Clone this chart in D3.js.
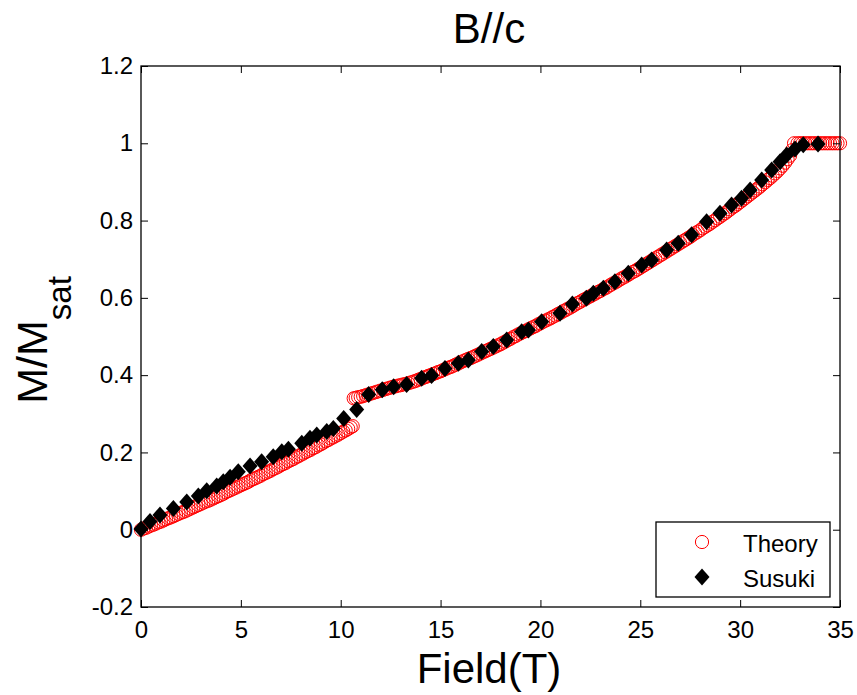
<!DOCTYPE html>
<html>
<head>
<meta charset="utf-8">
<script src="https://cdn.jsdelivr.net/npm/d3@7/dist/d3.min.js"></script>
<style>
  html, body { margin: 0; padding: 0; background: #fff; }
  svg { display: block; }
  text { font-family: "Liberation Sans", Arial, sans-serif; fill: #000; }
</style>
</head>
<body>
<svg id="chart" width="857" height="695"></svg>
<script>
// ---- Data ----
const theoryField = [
  0, 0.125, 0.25, 0.375, 0.5, 0.625, 0.75, 0.875, 1, 1.125, 1.25, 1.375, 1.5, 1.625, 1.75, 1.875,
  2, 2.125, 2.25, 2.375, 2.5, 2.625, 2.75, 2.875, 3, 3.125, 3.25, 3.375, 3.5, 3.625, 3.75, 3.875,
  4, 4.125, 4.25, 4.375, 4.5, 4.625, 4.75, 4.875, 5, 5.125, 5.25, 5.375, 5.5, 5.625, 5.75, 5.875,
  6, 6.125, 6.25, 6.375, 6.5, 6.625, 6.75, 6.875, 7, 7.125, 7.25, 7.375, 7.5, 7.625, 7.75, 7.875,
  8, 8.125, 8.25, 8.375, 8.5, 8.625, 8.75, 8.875, 9, 9.125, 9.25, 9.375, 9.5, 9.625, 9.75, 9.875,
  10, 10.125, 10.25, 10.375, 10.5, 10.6,
  10.65, 10.75, 10.875, 11, 11.125, 11.25, 11.375, 11.5, 11.625, 11.75, 11.875,
  12, 12.125, 12.25, 12.375, 12.5, 12.625, 12.75, 12.875, 13, 13.125, 13.25, 13.375, 13.5, 13.625, 13.75, 13.875,
  14, 14.125, 14.25, 14.375, 14.5, 14.625, 14.75, 14.875, 15, 15.125, 15.25, 15.375, 15.5, 15.625, 15.75, 15.875,
  16, 16.125, 16.25, 16.375, 16.5, 16.625, 16.75, 16.875, 17, 17.125, 17.25, 17.375, 17.5, 17.625, 17.75, 17.875,
  18, 18.125, 18.25, 18.375, 18.5, 18.625, 18.75, 18.875, 19, 19.125, 19.25, 19.375, 19.5, 19.625, 19.75, 19.875,
  20, 20.125, 20.25, 20.375, 20.5, 20.625, 20.75, 20.875, 21, 21.125, 21.25, 21.375, 21.5, 21.625, 21.75, 21.875,
  22, 22.125, 22.25, 22.375, 22.5, 22.625, 22.75, 22.875, 23, 23.125, 23.25, 23.375, 23.5, 23.625, 23.75, 23.875,
  24, 24.125, 24.25, 24.375, 24.5, 24.625, 24.75, 24.875, 25, 25.125, 25.25, 25.375, 25.5, 25.625, 25.75, 25.875,
  26, 26.125, 26.25, 26.375, 26.5, 26.625, 26.75, 26.875, 27, 27.125, 27.25, 27.375, 27.5, 27.625, 27.75, 27.875,
  28, 28.125, 28.25, 28.375, 28.5, 28.625, 28.75, 28.875, 29, 29.125, 29.25, 29.375, 29.5, 29.625, 29.75, 29.875,
  30, 30.125, 30.25, 30.375, 30.5, 30.625, 30.75, 30.875, 31, 31.125, 31.25, 31.375, 31.5, 31.625, 31.75, 31.875,
  32, 32.125, 32.25, 32.375, 32.5, 32.6, 32.7,
  32.875, 33, 33.125, 33.25, 33.375, 33.5, 33.625, 33.75, 33.875, 34, 34.125, 34.25, 34.375, 34.5, 34.625, 34.75, 34.875, 35
];
const theoryM = [
  0, 0.003, 0.005, 0.008, 0.011, 0.013, 0.016, 0.019, 0.021, 0.024, 0.027, 0.030, 0.032, 0.035, 0.038, 0.041,
  0.044, 0.046, 0.049, 0.052, 0.055, 0.058, 0.061, 0.064, 0.067, 0.070, 0.073, 0.075, 0.078, 0.081, 0.084, 0.087,
  0.090, 0.093, 0.097, 0.100, 0.103, 0.106, 0.109, 0.112, 0.115, 0.118, 0.121, 0.124, 0.128, 0.131, 0.134, 0.137,
  0.140, 0.144, 0.147, 0.150, 0.153, 0.157, 0.160, 0.163, 0.167, 0.170, 0.173, 0.177, 0.180, 0.183, 0.187, 0.190,
  0.194, 0.197, 0.201, 0.204, 0.207, 0.211, 0.214, 0.218, 0.221, 0.225, 0.229, 0.232, 0.236, 0.239, 0.243, 0.246,
  0.250, 0.254, 0.257, 0.261, 0.265, 0.268,
  0.340, 0.341, 0.343, 0.344, 0.346, 0.348, 0.350, 0.352, 0.354, 0.356, 0.358,
  0.360, 0.362, 0.364, 0.366, 0.368, 0.370, 0.371, 0.373, 0.374, 0.376, 0.377, 0.379, 0.381, 0.383, 0.385, 0.388,
  0.390, 0.393, 0.395, 0.398, 0.400, 0.403, 0.405, 0.408, 0.410, 0.413, 0.416, 0.419, 0.421, 0.424, 0.427, 0.430,
  0.433, 0.436, 0.439, 0.442, 0.444, 0.447, 0.450, 0.453, 0.456, 0.459, 0.462, 0.465, 0.468, 0.471, 0.474, 0.477,
  0.480, 0.484, 0.487, 0.491, 0.494, 0.498, 0.501, 0.505, 0.508, 0.511, 0.514, 0.518, 0.521, 0.524, 0.527, 0.531,
  0.534, 0.538, 0.541, 0.544, 0.547, 0.551, 0.554, 0.558, 0.561, 0.565, 0.568, 0.572, 0.575, 0.579, 0.583, 0.587,
  0.590, 0.594, 0.597, 0.601, 0.604, 0.608, 0.611, 0.615, 0.618, 0.622, 0.625, 0.629, 0.633, 0.637, 0.640, 0.644,
  0.648, 0.652, 0.655, 0.659, 0.663, 0.667, 0.670, 0.674, 0.678, 0.682, 0.686, 0.690, 0.694, 0.698, 0.702, 0.706,
  0.710, 0.714, 0.718, 0.722, 0.726, 0.730, 0.734, 0.738, 0.742, 0.746, 0.750, 0.754, 0.758, 0.763, 0.767, 0.771,
  0.775, 0.780, 0.784, 0.788, 0.792, 0.797, 0.801, 0.806, 0.810, 0.815, 0.819, 0.824, 0.829, 0.834, 0.838, 0.843,
  0.848, 0.853, 0.858, 0.863, 0.868, 0.873, 0.878, 0.883, 0.888, 0.894, 0.899, 0.905, 0.910, 0.916, 0.922, 0.928,
  0.935, 0.942, 0.950, 0.959, 0.968, 0.982, 1.000,
  1.000, 1.000, 1.000, 1.000, 1.000, 1.000, 1.000, 1.000, 1.000, 1.000, 1.000, 1.000, 1.000, 1.000, 1.000, 1.000, 1.000, 1.000
];
const susukiField = [
  0, 0.45, 0.95, 1.62, 2.29, 2.87, 3.29, 3.79, 4.12, 4.46, 4.87, 5.46, 6.04, 6.62, 7.05, 7.38,
  8.05, 8.46, 8.8, 9.3, 9.63, 10.15, 10.8, 11.4, 12.08, 12.65, 13.3, 14.05, 14.55, 15.22, 15.89,
  16.39, 17.06, 17.64, 18.31, 19.06, 19.4, 20.06, 20.98, 21.6, 22.3, 22.65, 23.15, 23.73, 24.4,
  25.07, 25.57, 26.32, 26.9, 27.57, 28.32, 28.99, 29.57, 30.07, 30.5, 31.08, 31.58, 32.0, 32.33,
  32.75, 33.16, 33.9
];
const susukiM = [
  0.002, 0.021, 0.038, 0.055, 0.072, 0.087, 0.101, 0.113, 0.124, 0.136, 0.150, 0.165, 0.176, 0.189, 0.202, 0.208,
  0.224, 0.237, 0.245, 0.254, 0.262, 0.288, 0.311, 0.350, 0.362, 0.370, 0.376, 0.392, 0.399, 0.417, 0.431,
  0.439, 0.461, 0.474, 0.491, 0.512, 0.517, 0.538, 0.560, 0.584, 0.599, 0.612, 0.625, 0.642, 0.664,
  0.685, 0.698, 0.724, 0.741, 0.763, 0.797, 0.819, 0.840, 0.858, 0.879, 0.905, 0.931, 0.952, 0.970,
  0.985, 0.996, 0.998
];
const xTicks = [0, 5, 10, 15, 20, 25, 30, 35];
const yTicks = [-0.2, 0, 0.2, 0.4, 0.6, 0.8, 1, 1.2];
const yTickLabels = ["-0.2", "0", "0.2", "0.4", "0.6", "0.8", "1", "1.2"];
const seriesNames = ["Theory", "Susuki"];
const titleText = "B//c";
const xLabelText = "Field(T)";

// ---- Layout ----
const svg = d3.select("#chart");
const L = 141, R = 840, T = 66, B = 607;
const x = d3.scaleLinear().domain([0, 35]).range([L, R]);
const y = d3.scaleLinear().domain([-0.2, 1.2]).range([B, T]);
const tickLen = 7;

const theory = theoryField.map((f, i) => ({ f, m: theoryM[i] }));
const susuki = susukiField.map((f, i) => ({ f, m: susukiM[i] }));

svg.append("g").selectAll("circle").data(theory).enter().append("circle")
  .attr("cx", d => x(d.f)).attr("cy", d => y(d.m)).attr("r", 6.6)
  .attr("fill", "none").attr("stroke", "#ff0000").attr("stroke-width", 1);

const diamond = (cx, cy, w, h) => `M${cx},${cy - h}L${cx + w},${cy}L${cx},${cy + h}L${cx - w},${cy}Z`;
svg.append("g").selectAll("path").data(susuki).enter().append("path")
  .attr("d", d => diamond(x(d.f), y(d.m), 7.5, 8.5))
  .attr("fill", "#000");

// axes box
svg.append("rect").attr("x", L).attr("y", T).attr("width", R - L).attr("height", B - T)
  .attr("fill", "none").attr("stroke", "#000").attr("stroke-width", 1.3);

const fontFam = "Liberation Sans, Arial, sans-serif";
const gxb = svg.append("g").attr("transform", `translate(0,${B})`)
  .call(d3.axisBottom(x).tickValues(xTicks).tickSize(-tickLen).tickPadding(14).tickFormat(d3.format("d")));
gxb.select(".domain").remove();
gxb.selectAll("line").attr("stroke", "#000");
gxb.selectAll("text").attr("font-size", 24).attr("font-family", fontFam).attr("fill", "#000");

const gxt = svg.append("g").attr("transform", `translate(0,${T})`)
  .call(d3.axisTop(x).tickValues(xTicks).tickSize(-tickLen).tickFormat(""));
gxt.select(".domain").remove();
gxt.selectAll("line").attr("stroke", "#000");

const gyl = svg.append("g").attr("transform", `translate(${L},0)`)
  .call(d3.axisLeft(y).tickValues(yTicks).tickSize(-tickLen).tickPadding(8)
    .tickFormat((d, i) => yTickLabels[i]));
gyl.select(".domain").remove();
gyl.selectAll("line").attr("stroke", "#000");
gyl.selectAll("text").attr("font-size", 24).attr("font-family", fontFam).attr("fill", "#000");

const gyr = svg.append("g").attr("transform", `translate(${R},0)`)
  .call(d3.axisRight(y).tickValues(yTicks).tickSize(-tickLen).tickFormat(""));
gyr.select(".domain").remove();
gyr.selectAll("line").attr("stroke", "#000");

svg.append("text").attr("x", 489).attr("y", 43).attr("text-anchor", "middle")
  .attr("font-size", 42).text(titleText);

svg.append("text").attr("x", 489).attr("y", 683).attr("text-anchor", "middle")
  .attr("font-size", 42).text(xLabelText);

const yl = svg.append("text").attr("transform", "translate(47,340) rotate(-90)")
  .attr("text-anchor", "middle").attr("font-size", 43);
yl.append("tspan").text("M/M");
yl.append("tspan").attr("dy", 24).attr("font-size", 33).text("sat");

const lg = svg.append("g");
lg.append("rect").attr("x", 656).attr("y", 522).attr("width", 174).attr("height", 75)
  .attr("fill", "#fff").attr("stroke", "#000").attr("stroke-width", 1.3);
lg.append("circle").attr("cx", 702).attr("cy", 542).attr("r", 6.6)
  .attr("fill", "none").attr("stroke", "#ff0000").attr("stroke-width", 1);
lg.append("path").attr("d", diamond(702, 577, 7.5, 8.5)).attr("fill", "#000");
lg.append("text").attr("x", 743).attr("y", 552).attr("font-size", 24).text(seriesNames[0]);
lg.append("text").attr("x", 743).attr("y", 587).attr("font-size", 24).text(seriesNames[1]);
</script>
</body>
</html>
